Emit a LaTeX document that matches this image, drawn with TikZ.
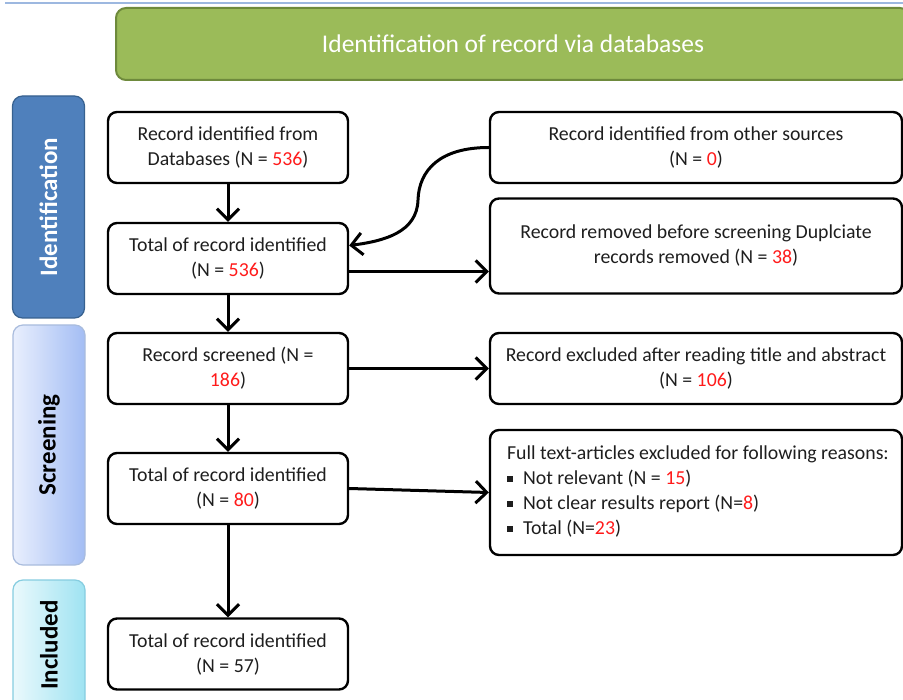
\documentclass[tikz,border=0pt]{standalone}
\usepackage{fontspec}
\setmainfont{Carlito}
\usepackage{xcolor}
\usetikzlibrary{arrows.meta}
\definecolor{topline}{HTML}{9DB8E0}
\definecolor{bannergreen}{HTML}{9BBB59}
\definecolor{bannerline}{HTML}{6E8A3C}
\definecolor{identblue}{HTML}{4F80BC}
\definecolor{identline}{HTML}{37618F}
\definecolor{screenL}{HTML}{E9EFFD}
\definecolor{screenR}{HTML}{A3BDF4}
\definecolor{screenline}{HTML}{A9BCDD}
\definecolor{inclL}{HTML}{EAF9FC}
\definecolor{inclR}{HTML}{9FE3F2}
\definecolor{inclline}{HTML}{86CDE0}
\definecolor{textgray}{HTML}{1E1E1E}
\definecolor{numred}{HTML}{FF1A1A}
\newcommand{\boxfont}{\fontsize{19.8}{25}\selectfont}
\newcommand{\stagefont}{\fontsize{25}{28}\selectfont\bfseries}
\newcommand{\redn}[1]{\textcolor{numred}{#1}}
\newcommand{\sqbullet}{\raisebox{3pt}{\rule{6pt}{6pt}}}
\tikzset{
 flowbox/.style={draw,line width=2.4pt,rounded corners=9pt,minimum width=240pt,
  minimum height=71pt,align=center,font=\boxfont,text=textgray,inner sep=2pt},
 widebox/.style={flowbox,minimum width=412pt},
 arr/.style={-{Straight Barb[length=11pt,width=22pt]},line width=3pt},
 stagebox/.style={rounded corners=10pt,minimum width=72pt,line width=1.2pt,
  font=\stagefont,inner sep=0pt},
}
\begin{document}
\begin{tikzpicture}[x=1pt,y=-1pt]
 \useasboundingbox (0,0) rectangle (903,700);
 \begin{scope}
 \clip (0,0) rectangle (903,700);
 \draw[topline,line width=2pt] (5,3)--(903,3);
 % banner
 \node[fill=bannergreen,draw=bannerline,line width=2pt,rounded corners=10pt,
  minimum width=794pt,minimum height=72pt,text=white,
  font=\fontsize{25.5}{28}\selectfont] (banner) at (513,44)
  {Identification of record via databases};
 % stages
 \node[stagebox,fill=identblue,draw=identline,minimum height=222pt,text=white]
  (ident) at (48.5,207) {\rotatebox{90}{Identification}};
 \node[stagebox,left color=screenL,right color=screenR,draw=screenline,
  minimum height=240pt] (screen) at (49,445) {\rotatebox{90}{Screening}};
 \node[stagebox,left color=inclL,right color=inclR,draw=inclline,
  minimum height=130pt] (incl) at (49,645) {\rotatebox{90}{Included}};
 % left column
 \node[flowbox] (dbrec) at (228,147.5)
  {Record identified from\\Databases (N = \redn{536})};
 \node[flowbox] (total1) at (228,258.5)
  {Total of record identified\\(N = \redn{536})};
 \node[flowbox] (screened) at (228,368.5)
  {Record screened (N =\\\redn{186})};
 \node[flowbox] (total2) at (228,488.5)
  {Total of record identified\\(N = \redn{80})};
 \node[flowbox] (total3) at (228,654)
  {Total of record identified\\(N = 57)};
 % right column
 \node[widebox] (other) at (696,147.5)
  {Record identified from other sources\\(N = \redn{0})};
 \node[widebox,minimum height=95pt] (removed) at (696,246)
  {Record removed before screening Duplciate\\records removed (N = \redn{38})};
 \node[widebox] (excl) at (696,368.5)
  {Record excluded after reading title and abstract\\(N = \redn{106})};
 \node[widebox,minimum height=125pt,align=left,text depth=4pt] (fulltext) at (696,492.5)
  {\hspace{4pt}Full text-articles excluded for following reasons:\\
   \hspace{4pt}\sqbullet\hspace{10pt}Not relevant (N = \redn{15})\\
   \hspace{4pt}\sqbullet\hspace{10pt}Not clear results report (N=\redn{8})\\
   \hspace{4pt}\sqbullet\hspace{10pt}Total (N=\redn{23})};
 % arrows
 \draw[arr] (dbrec)--(total1);
 \draw[arr] (total1)--(screened);
 \draw[arr] (screened)--(total2);
 \draw[arr] (total2)--(total3);
 \draw[arr] ([yshift=-13pt]total1.east)--([yshift=-13pt]total1.east -| removed.west);
 \draw[arr] (screened.east)--(excl.west);
 \draw[arr] (total2.east)--(fulltext.west);
 \draw[arr] (other.west) .. controls (440,147.5) and (419,170) .. (418,200)
  .. controls (417,232) and (385,241) .. ([yshift=13pt]total1.east);
 \end{scope}
\end{tikzpicture}
\end{document}
